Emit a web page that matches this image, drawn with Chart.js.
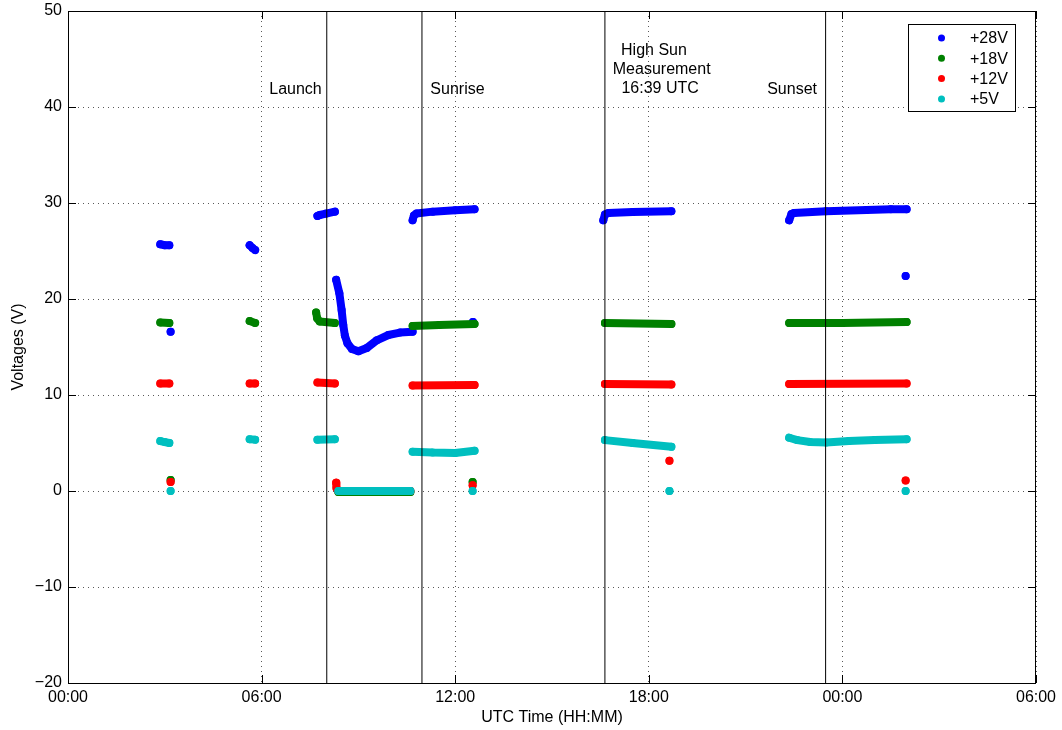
<!DOCTYPE html>
<html>
<head>
<meta charset="utf-8">
<title>Voltages</title>
<script src="https://cdn.jsdelivr.net/npm/chart.js@4.4.1/dist/chart.umd.min.js"></script>
<style>
  html, body { margin: 0; padding: 0; background: #fff; }
  #wrap { width: 1062px; height: 730px; position: relative; }
</style>
</head>
<body>
<div id="wrap"><canvas id="voltChart"></canvas></div>
<script>
// hours since 00:00 UTC of launch day; a null ends a run of samples
const time28 = [2.86, 3.0, 3.14, null, 3.18, null, 5.63, 5.72, 5.80, null,
    7.73, 7.8, 8.0, 8.27, null,
    8.31, 8.41, 8.48, 8.53, 8.58, 8.66, 8.8, 9.0, 9.26, 9.57, 9.93, 10.29, 10.68, null,
    10.68, 10.72, 10.8, 11.3, 12.0, 12.6, null, 12.55, null,
    16.59, 16.64, 16.75, 17.5, 18.7, null,
    22.35, 22.42, 22.5, 23.49, 24.75, 25.5, 25.99, null, 25.96];
const volt28 = [25.7, 25.6, 25.6, null, 16.6, null, 25.6, 25.3, 25.1, null,
    28.65, 28.75, 28.9, 29.1, null,
    22.0, 20.6, 18.85, 17.3, 16.2, 15.4, 14.8, 14.55, 14.9, 15.7, 16.25, 16.5, 16.6, null,
    28.2, 28.7, 28.9, 29.1, 29.25, 29.35, null, 17.6, null,
    28.2, 28.8, 28.95, 29.05, 29.15, null,
    28.2, 28.85, 28.95, 29.15, 29.27, 29.35, 29.35, null, 22.4];

const time18 = [2.86, 3.14, null, 3.18, null, 5.63, 5.80, null,
    7.69, 7.72, 7.8, 8.27, null, 8.38, 10.61, null,
    10.68, 11.5, 12.6, null, 12.54, null,
    16.64, 18.7, null, 22.35, 24.0, 25.99];
const volt18 = [17.55, 17.5, null, 1.15, null, 17.7, 17.5, null,
    18.6, 18.0, 17.65, 17.5, null, -0.1, -0.1, null,
    17.2, 17.3, 17.4, null, 0.94, null,
    17.5, 17.4, null, 17.5, 17.5, 17.6];

const time12 = [2.86, 3.14, null, 3.18, null, 5.63, 5.80, null,
    7.73, 8.27, null, 8.31, 8.32, 8.38, 10.61, null,
    10.68, 12.6, null, 12.54, null,
    16.64, 18.7, null, 18.64, null,
    22.35, 25.99, null, 25.96];
const volt12 = [11.2, 11.2, null, 0.94, null, 11.2, 11.2, null,
    11.3, 11.2, null, 0.85, 0.3, 0.0, 0.0, null,
    11.0, 11.05, null, 0.6, null,
    11.15, 11.1, null, 3.15, null,
    11.15, 11.2, null, 1.1];

const time5 = [2.86, 3.0, 3.14, null, 3.18, null, 5.63, 5.80, null,
    7.73, 8.27, null, 8.38, 10.61, null,
    10.68, 11.3, 12.0, 12.6, null, 12.54, null,
    16.64, 17.5, 18.7, null, 18.64, null,
    22.35, 22.6, 23.0, 23.5, 24.2, 25.0, 25.99, null, 25.96];
const volt5 = [5.2, 5.1, 5.0, null, 0.0, null, 5.4, 5.35, null,
    5.35, 5.4, null, 0.0, 0.0, null,
    4.1, 4.0, 3.95, 4.2, null, 0.0, null,
    5.3, 5.0, 4.6, null, 0.0, null,
    5.55, 5.3, 5.1, 5.05, 5.2, 5.3, 5.4, null, 0.0];

const seriesLabels = ['+28V', '+18V', '+12V', '+5V'];
const seriesColors = ['#0000ff', '#008000', '#ff0000', '#00bfbf'];

const xTicks = [0, 6, 12, 18, 24, 30];
const yTicks = [-20, -10, 0, 10, 20, 30, 40, 50];

// event markers (hours) and their text, placed in data units
const eventTimes = [8.02, 10.97, 16.64, 23.48];
const noteText = ['Launch', 'Sunrise', 'High Sun', 'Measurement', '16:39 UTC', 'Sunset'];
const noteTime = [7.05, 12.07, 18.16, 18.40, 18.35, 22.44];
const noteVolt = [41.8, 41.8, 45.9, 43.85, 41.93, 41.85];

function pairUp(ts, vs) {
    return ts.map((t, i) => ({ x: t, y: t === null ? null : vs[i] }));
}

const fontFamily = "'Liberation Sans', Arial, Helvetica, sans-serif";
Chart.defaults.font.family = fontFamily;
Chart.defaults.font.size = 16;
Chart.defaults.color = '#000';

const series = [pairUp(time28, volt28), pairUp(time18, volt18), pairUp(time12, volt12), pairUp(time5, volt5)];

const datasets = series.map((data, i) => ({
    label: seriesLabels[i],
    data: data,
    order: 4 - i,
    showLine: true,
    spanGaps: false,
    borderColor: seriesColors[i],
    backgroundColor: seriesColors[i],
    borderWidth: 8,
    borderCapStyle: 'round',
    borderJoinStyle: 'round',
    tension: 0,
    pointRadius: 4,
    pointBorderWidth: 0,
    pointBackgroundColor: seriesColors[i]
}));

const framePlugin = {
    id: 'frame',
    afterDatasetsDraw(chart) {
        const ctx = chart.ctx;
        const area = chart.chartArea;
        const xs = chart.scales.x;
        const ys = chart.scales.y;

        ctx.save();
        // event lines
        ctx.strokeStyle = '#000';
        ctx.lineWidth = 1;
        eventTimes.forEach(t => {
            const px = xs.getPixelForValue(t);
            ctx.beginPath();
            ctx.moveTo(px, area.top);
            ctx.lineTo(px, area.bottom);
            ctx.stroke();
        });

        // notes
        ctx.fillStyle = '#000';
        ctx.font = '16px ' + fontFamily;
        ctx.textAlign = 'center';
        ctx.textBaseline = 'middle';
        noteText.forEach((txt, i) => {
            ctx.fillText(txt, xs.getPixelForValue(noteTime[i]), ys.getPixelForValue(noteVolt[i]));
        });

        // axes box
        ctx.strokeStyle = '#000';
        ctx.lineWidth = 1;
        ctx.strokeRect(Math.round(area.left) + 0.5, Math.round(area.top) + 0.5,
            Math.round(area.right - area.left) - 1, Math.round(area.bottom - area.top));

        // inward ticks on all sides
        const tl = 8;
        ctx.beginPath();
        xTicks.forEach(v => {
            const px = Math.round(xs.getPixelForValue(v)) + 0.5;
            ctx.moveTo(px, area.bottom); ctx.lineTo(px, area.bottom - tl);
            ctx.moveTo(px, area.top); ctx.lineTo(px, area.top + tl);
        });
        yTicks.forEach(v => {
            const py = Math.round(ys.getPixelForValue(v)) + 0.5;
            ctx.moveTo(area.left, py); ctx.lineTo(area.left + tl, py);
            ctx.moveTo(area.right, py); ctx.lineTo(area.right - tl, py);
        });
        ctx.stroke();

        // legend box
        const lx = 908, ly = 24, lw = 107, lh = 87;
        ctx.fillStyle = '#fff';
        ctx.fillRect(lx, ly, lw, lh);
        ctx.strokeRect(lx + 0.5, ly + 0.5, lw, lh);
        chart.data.datasets.forEach((ds, i) => {
            const cy = 38 + i * 20.3;
            ctx.fillStyle = ds.borderColor;
            ctx.beginPath();
            ctx.arc(941.5, cy, 3.5, 0, Math.PI * 2);
            ctx.fill();
            ctx.fillStyle = '#000';
            ctx.textAlign = 'left';
            ctx.fillText(ds.label, 970, cy + 1);
        });
        ctx.restore();
    }
};

new Chart(document.getElementById('voltChart'), {
    type: 'line',
    data: { datasets: datasets },
    options: {
        responsive: true,
        maintainAspectRatio: false,
        animation: false,
        devicePixelRatio: 1,
        events: [],
        layout: { padding: { top: 11, right: 26, bottom: 0, left: 0 } },
        plugins: {
            legend: { display: false },
            tooltip: { enabled: false }
        },
        scales: {
            x: {
                type: 'linear',
                min: 0,
                max: 30,
                afterBuildTicks: scale => { scale.ticks = xTicks.map(v => ({ value: v })); },
                afterFit: scale => {
                    scale.height = 47;
                    scale.paddingLeft = 0;
                    scale.paddingRight = 0;
                },
                ticks: {
                    padding: 5,
                    maxRotation: 0,
                    callback: v => String(v % 24).padStart(2, '0') + ':00'
                },
                grid: { color: 'rgba(0,0,0,0.65)', drawTicks: false, lineWidth: 1 },
                border: { display: false, dash: [1, 4] },
                title: { display: true, text: 'UTC Time (HH:MM)', padding: { top: 0, bottom: 3 } }
            },
            y: {
                min: -20,
                max: 50,
                afterBuildTicks: scale => { scale.ticks = yTicks.map(v => ({ value: v })); },
                afterFit: scale => {
                    scale.width = 68;
                    scale.paddingTop = 0;
                    scale.paddingBottom = 0;
                },
                ticks: {
                    padding: 6,
                    callback: v => String(v).replace('-', '\u2212')
                },
                grid: { color: 'rgba(0,0,0,0.65)', drawTicks: false, lineWidth: 1 },
                border: { display: false, dash: [1, 4] },
                title: { display: true, text: 'Voltages (V)', padding: { top: 9, bottom: 0 } }
            }
        }
    },
    plugins: [framePlugin]
});
</script>
</body>
</html>
